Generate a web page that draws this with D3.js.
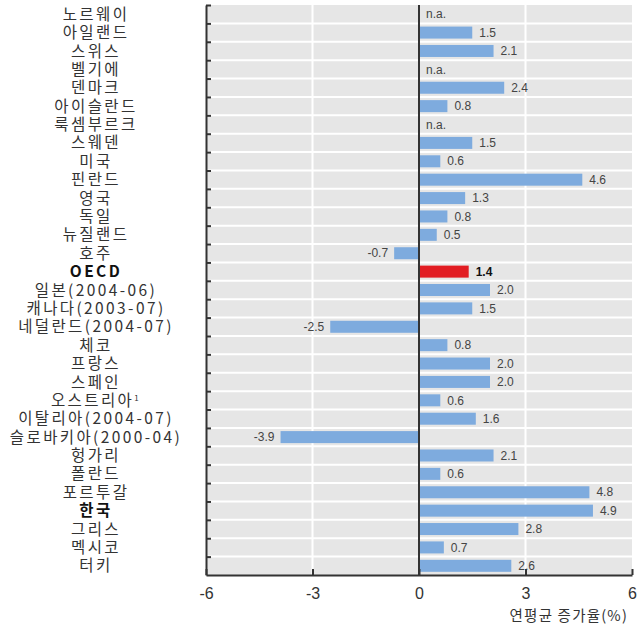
<!DOCTYPE html>
<html>
<head>
<meta charset="utf-8">
<script src="https://cdn.jsdelivr.net/npm/d3@7"></script>
<style>
  body { margin: 0; background: #fff; }
  svg { display: block; }
</style>
</head>
<body>
<div id="chart"></div>
<script>
// Countries, top to bottom
const countries = ['노르웨이', '아일랜드', '스위스', '벨기에', '덴마크', '아이슬란드', '룩셈부르크', '스웨덴',
    '미국', '핀란드', '영국', '독일', '뉴질랜드', '호주', 'OECD', '일본(2004-06)', '캐나다(2003-07)',
    '네덜란드(2004-07)', '체코', '프랑스', '스페인', '오스트리아', '이탈리아(2004-07)', '슬로바키아(2000-04)',
    '헝가리', '폴란드', '포르투갈', '한국', '그리스', '멕시코', '터키'];

// Annual average growth rate (%), null = n.a.
const values = [null, 1.5, 2.1, null, 2.4, 0.8, null, 1.5, 0.6, 4.6, 1.3, 0.8, 0.5, -0.7, 1.4, 2.0, 1.5,
    -2.5, 0.8, 2.0, 2.0, 0.6, 1.6, -3.9, 2.1, 0.6, 4.8, 4.9, 2.8, 0.7, 2.6];

const xTicks = [-6, -3, 0, 3, 6];
const boldLabels = ['OECD', '한국'];

const data = countries.map((c, i) => ({ country: c, value: values[i] }));

const width = 638;
const height = 627;
const plotLeft = 206, plotRight = 632, plotTop = 5, plotBottom = 575;

const svg = d3.select('#chart').append('svg')
    .attr('width', width)
    .attr('height', height);

// Scales
const xScale = d3.scaleLinear().domain([-6, 6]).range([plotLeft, plotRight]);
const yScale = d3.scaleBand().domain(countries).range([plotTop, plotBottom]).paddingInner(0);
const barH = 12;

// Plot background
svg.append('rect')
    .attr('x', plotLeft).attr('y', plotTop)
    .attr('width', plotRight - plotLeft).attr('height', plotBottom - plotTop)
    .attr('fill', '#e6e6e6');

// White row separators
svg.selectAll('.sep')
    .data(countries.slice(1))
    .enter()
    .append('line')
    .attr('x1', plotLeft).attr('x2', plotRight)
    .attr('y1', d => yScale(d)).attr('y2', d => yScale(d))
    .attr('stroke', '#fff').attr('stroke-width', 2);

// White vertical grid lines
svg.selectAll('.grid')
    .data([-3, 3])
    .enter()
    .append('line')
    .attr('x1', d => xScale(d)).attr('x2', d => xScale(d))
    .attr('y1', plotTop).attr('y2', plotBottom)
    .attr('stroke', '#fff').attr('stroke-width', 2);

// Bars
svg.selectAll('.bar')
    .data(data.filter(d => d.value !== null))
    .enter()
    .append('rect')
    .attr('x', d => xScale(Math.min(0, d.value)))
    .attr('width', d => Math.abs(xScale(d.value) - xScale(0)))
    .attr('y', d => yScale(d.country) + (yScale.bandwidth() - barH) / 2)
    .attr('height', barH)
    .attr('fill', d => d.country === 'OECD' ? '#e21d23' : '#7eabde');

// Value labels
svg.selectAll('.val')
    .data(data)
    .enter()
    .append('text')
    .attr('x', d => d.value === null ? xScale(0) + 7 : (d.value < 0 ? xScale(d.value) - 6 : xScale(d.value) + 7))
    .attr('y', d => yScale(d.country) + yScale.bandwidth() / 2)
    .attr('dy', '0.35em')
    .attr('text-anchor', d => d.value !== null && d.value < 0 ? 'end' : 'start')
    .attr('font-family', '"Liberation Sans Narrow", "Liberation Sans", sans-serif')
    .attr('font-size', 12)
    .attr('font-weight', d => d.country === 'OECD' ? 'bold' : 'normal')
    .attr('fill', d => d.country === 'OECD' ? '#111' : '#444')
    .text(d => d.value === null ? 'n.a.' : d.value.toFixed(1));

// Zero line
svg.append('line')
    .attr('x1', xScale(0)).attr('x2', xScale(0))
    .attr('y1', plotTop).attr('y2', plotBottom)
    .attr('stroke', '#333').attr('stroke-width', 2);

// Left axis with ticks at row boundaries
const rowScale = d3.scaleLinear().domain([0, countries.length]).range([plotTop, plotBottom]);
const yAxis = d3.axisRight(rowScale)
    .tickValues(d3.range(0, countries.length))
    .tickSize(5)
    .tickSizeOuter(0)
    .tickFormat('');
const yAxisGroup = svg.append('g')
    .attr('class', 'axis y-axis')
    .attr('transform', `translate(${plotLeft},0)`)
    .call(yAxis);
yAxisGroup.selectAll('line, path').attr('stroke', '#333').attr('stroke-width', 2);

// Bottom axis
const xAxis = d3.axisBottom(xScale)
    .tickValues(xTicks)
    .tickSize(-6)
    .tickSizeOuter(0)
    .tickPadding(13)
    .tickFormat(d => String(d));
const xAxisGroup = svg.append('g')
    .attr('class', 'axis x-axis')
    .attr('transform', `translate(0,${plotBottom})`)
    .call(xAxis);
xAxisGroup.selectAll('line, path').attr('stroke', '#333').attr('stroke-width', 2);
xAxisGroup.selectAll('text')
    .attr('font-family', '"Liberation Sans Narrow", "Liberation Sans", sans-serif')
    .attr('font-size', 16)
    .attr('fill', '#333');

// Category labels
const labels = svg.selectAll('.cat')
    .data(countries)
    .enter()
    .append('text')
    .attr('x', 96)
    .attr('y', d => yScale(d) + yScale.bandwidth() / 2)
    .attr('dy', '0.36em')
    .attr('text-anchor', 'middle')
    .attr('font-family', '"Noto Sans CJK KR", sans-serif')
    .attr('font-size', 15.5)
    .attr('letter-spacing', 2.4)
    .attr('font-weight', d => boldLabels.includes(d) ? 'bold' : 'normal')
    .attr('fill', d => boldLabels.includes(d) ? '#111' : '#333')
    .text(d => d);
labels.filter(d => d === '오스트리아')
    .append('tspan')
    .attr('font-size', 8)
    .attr('dy', '-0.6em')
    .text('1');

// Axis title
svg.append('text')
    .attr('x', 628)
    .attr('y', 621)
    .attr('text-anchor', 'end')
    .attr('font-family', '"Noto Sans CJK KR", sans-serif')
    .attr('font-size', 14.5)
    .attr('letter-spacing', 1.2)
    .attr('fill', '#333')
    .text('연평균 증가율(%)');
</script>
</body>
</html>
